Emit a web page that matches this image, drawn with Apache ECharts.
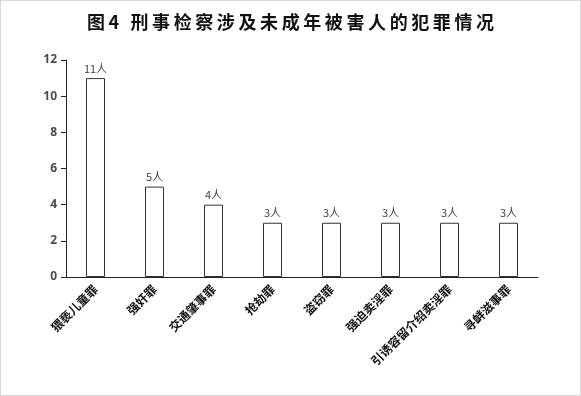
<!DOCTYPE html>
<html><head><meta charset="utf-8">
<script src="https://cdn.jsdelivr.net/npm/echarts@6/dist/echarts.min.js"></script>
<style>html,body{margin:0;padding:0;background:#fff}#c{width:581px;height:396px;box-sizing:border-box;border:1px solid #d9d9d9}</style>
</head><body><div id="c"></div>
<script>
const categories = ['猥亵儿童罪','强奸罪','交通肇事罪','抢劫罪','盗窃罪','强迫卖淫罪','引诱容留介绍卖淫罪','寻衅滋事罪'];
const values = [11,5,4,3,3,3,3,3];
const yTicks = [0,2,4,6,8,10,12];
const titleText = '图4 刑事检察涉及未成年被害人的犯罪情况';
const chart = echarts.init(document.getElementById('c'));
chart.setOption({
  animation:false,
  backgroundColor:'#fff',
  title:{text:titleText.split('').join('\u2009'),left:'center',top:7,
    textStyle:{fontFamily:'Noto Sans CJK SC',fontWeight:'bold',fontSize:18,color:'#111'}},
  grid:{left:65,right:42,top:59,bottom:118},
  xAxis:{type:'category',data:categories,
    axisLine:{lineStyle:{color:'#222',width:1}},axisTick:{show:false},
    axisLabel:{rotate:45,interval:0,margin:10,fontFamily:'Noto Sans CJK SC',fontWeight:'bold',fontSize:12,color:'#111'}},
  yAxis:{type:'value',min:yTicks[0],max:yTicks[yTicks.length-1],interval:2,
    splitLine:{show:false},
    axisLine:{show:true,lineStyle:{color:'#222'}},
    axisTick:{show:true,length:5,lineStyle:{color:'#222'}},
    axisLabel:{fontFamily:'Noto Sans',fontWeight:'bold',fontSize:12,color:'#4a4a4a',margin:9}},
  series:[{type:'bar',data:values,barWidth:19,
    itemStyle:{color:'#fff',borderColor:'#333',borderWidth:1},
    label:{show:true,position:'top',formatter:'{c}人',fontFamily:'Noto Sans CJK SC',fontSize:11,color:'#444',distance:4}}]
});
</script></body></html>
